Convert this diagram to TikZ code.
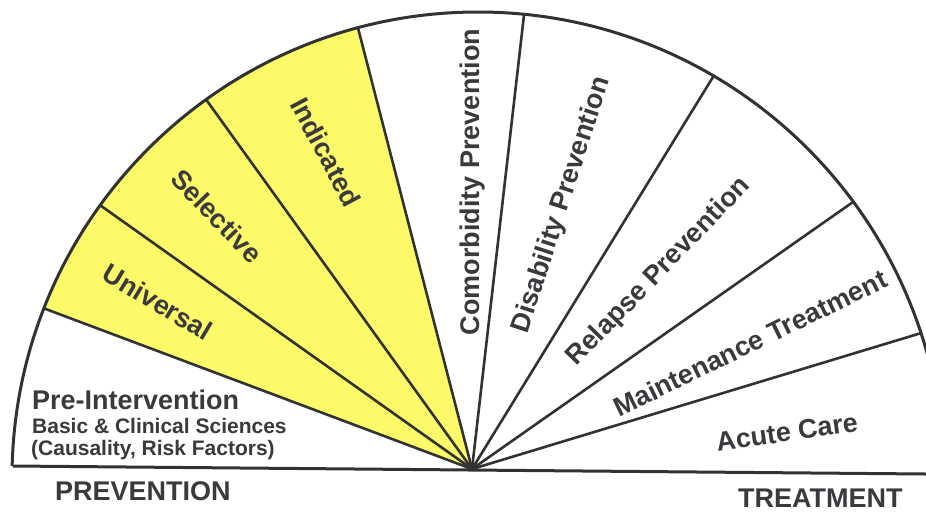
\documentclass[tikz,border=0pt]{standalone}
\usepackage{fontspec}
\setmainfont{Liberation Sans}
\usetikzlibrary{calc}
\definecolor{ink}{RGB}{50,50,50}
\definecolor{txt}{RGB}{58,58,62}
\definecolor{yel}{RGB}{252,250,105}
\begin{document}
\begin{tikzpicture}[x=1pt,y=-1pt,
  lab/.style={font=\fontsize{27}{27}\selectfont\bfseries, text=txt, inner sep=0pt},
  sublab/.style={font=\fontsize{21}{21}\selectfont\bfseries, text=txt, inner sep=0pt, anchor=base west},
  spoke/.style={draw=ink, line width=2.6pt},
  rim/.style={draw=ink, line width=3pt}]
\useasboundingbox (0,0) rectangle (926,512);
\clip (0,0) rectangle (926,512);
\coordinate (H) at (472,469);
\coordinate (C) at (478,478);
\coordinate (B1) at (13,466);
\coordinate (B2) at (926,474);
\coordinate (P1) at (43,308);
\coordinate (P2) at (97,203);
\coordinate (P3) at (205,98);
\coordinate (P4) at (358,28);
\coordinate (P5) at (524,15);
\coordinate (P6) at (713,77);
\coordinate (P7) at (853,202);
\coordinate (P8) at (918,334);
% white background
\fill[white] (0,0) rectangle (926,512);
% yellow sectors and spokes
\begin{scope}
  \clip (C) circle[radius=466pt];
  \fill[yel] (H) -- ($(H)!1.4!(P1)$) -- ($(H)!1.4!(P2)$) -- ($(H)!1.4!(P3)$) -- ($(H)!1.4!(P4)$) -- cycle;
  \foreach \p in {P1,P2,P3,P4,P5,P6,P7,P8}
    \draw[spoke] (H) -- ($(H)!1.2!(\p)$);
\end{scope}
% rim above the baseline
\begin{scope}
  \clip (-5,-20) -- (931,-20) -- (931,474.04) -- (-5,465.84) -- cycle;
  \draw[rim] (C) circle[radius=466pt];
\end{scope}
\draw[rim] (B1) -- (B2);
% sector labels
\node[lab, rotate=-31] (univ) at (158,302) {Universal};
\node[lab, rotate=-46] (sel) at (217,216) {Selective};
\node[lab, rotate=-62] (ind) at (326,152) {Indicated};
\node[lab, rotate=90] (com) at (473,182) {Comorbidity Prevention};
\node[lab, rotate=72] (dis) at (562,205) {Disability Prevention};
\node[lab, rotate=46] (rel) at (659,272) {Relapse Prevention};
\node[lab, rotate=26] (mai) at (750,343) {Maintenance Treatment};
\node[lab, rotate=8] (acu) at (787,432) {Acute Care};
\node[lab, anchor=base west] (pre) at (32,409) {Pre-Intervention};
\node[sublab] (bas) at (32,433) {Basic \& Clinical Sciences};
\node[sublab] (cau) at (31,455) {(Causality, Risk Factors)};
\node[lab, anchor=base west] (prev) at (55,500) {PREVENTION};
\node[lab, anchor=base west] (treat) at (738,507) {TREATMENT};
\end{tikzpicture}
\end{document}
